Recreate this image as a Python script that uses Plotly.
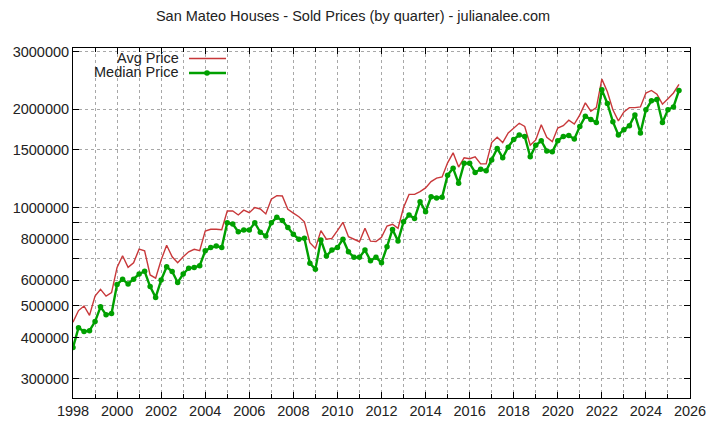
import numpy as np
import plotly.graph_objects as go

# quarterly dates starting 1998 Q1
start_year = 1998
median_k = [373, 429, 418, 420,
            448, 497, 470, 474,
            582, 603, 584, 603,
            626, 638, 573, 531,
            600, 659, 637, 590,
            626, 652, 656, 664,
            737, 754, 762, 755,
            898, 890, 843, 854,
            854, 898, 840, 818,
            898, 934, 912, 869,
            828, 800, 805, 675,
            648, 796, 711, 741,
            755, 800, 732, 704,
            704, 741, 688, 704,
            678, 759, 857, 790,
            904, 949, 925, 1042,
            971, 1079, 1070, 1075,
            1256, 1318, 1186, 1365,
            1365, 1280, 1310, 1295,
            1397, 1516, 1420, 1530,
            1615, 1667, 1650, 1430,
            1550, 1600, 1490, 1480,
            1600, 1650, 1660, 1620,
            1770, 1900, 1860, 1820,
            2290, 2080, 1830, 1667,
            1730, 1780, 1920, 1690,
            1990, 2120, 2140, 1820,
            1990, 2030, 2280]
avg_k = [446, 484, 500, 468,
         536, 562, 536, 549,
         656, 712, 656, 678,
         746, 737, 622, 608,
         691, 767, 707, 678,
         707, 732, 745, 738,
         847, 858, 858, 855,
         976, 976, 949, 982,
         964, 1000, 990, 956,
         1060, 1087, 1085, 987,
         961, 937, 904, 781,
         750, 850, 800, 805,
         850, 901, 814, 800,
         786, 864, 789, 787,
         811, 878, 889, 864,
         1000, 1097, 1097, 1118,
         1148, 1200, 1230, 1240,
         1370, 1470, 1330, 1420,
         1410, 1430, 1360, 1360,
         1580, 1640, 1580, 1690,
         1750, 1810, 1770, 1550,
         1610, 1790, 1640, 1590,
         1750, 1780, 1850, 1800,
         1920, 2090, 1970, 2020,
         2470, 2260, 1990, 1840,
         1960, 2020, 2020, 2030,
         2240, 2280, 2220, 2070,
         2150, 2240, 2380]

dates = [start_year + i * 0.25 for i in range(len(median_k))]
median = [v * 1000 for v in median_k]
avg = [v * 1000 for v in avg_k]

y_tickvals = [300000, 400000, 500000, 600000, 800000, 1000000, 1500000, 2000000, 3000000]
y_ticktext = [str(v) for v in y_tickvals]
y_minorvals = [700000, 900000]
x_tickvals = list(range(1998, 2027, 2))
x_minorvals = list(range(1998, 2027))

RED = "#c8383a"
GREEN = "#00a000"
FONT = "Liberation Sans, Arial, sans-serif"
GRID = "#a8a8a8"
TXT = "#222"
FS = 14.5

L, R, T, B = 73, 16, 48, 27
PW, PH = 706 - L - R, 425 - T - B

fig = go.Figure()
fig.add_trace(go.Scatter(x=dates, y=avg, mode="lines", name="Avg Price",
                         line=dict(color=RED, width=1.4), showlegend=False))
fig.add_trace(go.Scatter(x=dates, y=median, mode="lines+markers", name="Median Price",
                         line=dict(color=GREEN, width=2.4),
                         marker=dict(color=GREEN, size=5.5, symbol="circle"),
                         showlegend=False))

fig.update_layout(
    width=706, height=425,
    margin=dict(l=L, r=R, t=T, b=B, autoexpand=False),
    paper_bgcolor="white", plot_bgcolor="white",
    font=dict(family=FONT, size=FS, color=TXT),
    title=dict(text="San Mateo Houses - Sold Prices (by quarter) - julianalee.com",
               x=0.5, xanchor="center", y=1 - 16 / 425, yanchor="middle",
               font=dict(family=FONT, size=FS, color=TXT), automargin=False),
    xaxis=dict(range=[1997.9999, 2026.0001], tickvals=x_tickvals,
               ticktext=[str(v) for v in x_tickvals],
               automargin=False, ticklabeloverflow="allow",
               showgrid=True, gridcolor=GRID, griddash="3px,3px", gridwidth=1,
               minor=dict(tickvals=x_minorvals, showgrid=True, gridcolor=GRID,
                          griddash="3px,3px", ticks="inside", ticklen=4, tickcolor="black"),
               ticks="inside", ticklen=6, tickcolor="black",
               showline=True, linecolor="black", linewidth=1, mirror="ticks",
               zeroline=False, tickfont=dict(size=FS, color=TXT)),
    yaxis=dict(type="log", range=[np.log10(261500), np.log10(3075000)],
               tickvals=y_tickvals, ticktext=y_ticktext, automargin=False,
               ticklabeloverflow="allow",
               showgrid=True, gridcolor=GRID, griddash="3px,3px", gridwidth=1,
               minor=dict(tickvals=y_minorvals, showgrid=True, gridcolor=GRID,
                          griddash="3px,3px", ticks="inside", ticklen=6, tickcolor="black"),
               ticks="inside", ticklen=6, tickcolor="black",
               showline=True, linecolor="black", linewidth=1, mirror="ticks",
               zeroline=False, tickfont=dict(size=FS, color=TXT)),
)

# gnuplot-style key (text left, sample right), top-left inside the plot
def fx(p):
    return (p - L) / PW

def fy(p):
    return (425 - B - p) / PH

legend_items = [("Avg Price", RED, 1.4, 57.5, False), ("Median Price", GREEN, 2.4, 72, True)]
for label, col, w, ypix, mk in legend_items:
    fig.add_annotation(text=label, xref="paper", yref="paper",
                       x=fx(180), y=fy(ypix), xanchor="right", yanchor="middle",
                       showarrow=False, borderpad=0,
                       font=dict(family=FONT, size=FS, color=TXT))
    fig.add_shape(type="line", xref="paper", yref="paper",
                  x0=fx(189), x1=fx(226), y0=fy(ypix + 1), y1=fy(ypix + 1),
                  line=dict(color=col, width=w))
    if mk:
        fig.add_shape(type="circle", xref="paper", yref="paper",
                      x0=fx(204.2), x1=fx(209.8), y0=fy(ypix + 3.8), y1=fy(ypix - 1.8),
                      fillcolor=col, line=dict(color=col, width=0))

fig.write_html("out.html", config={"displayModeBar": False},
               post_script="document.body.style.margin='0';document.body.style.padding='0';")
